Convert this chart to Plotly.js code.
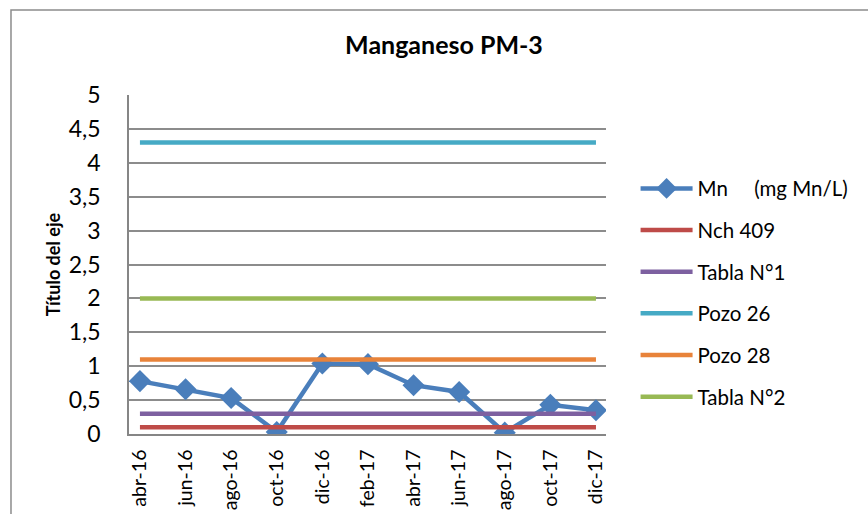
<!DOCTYPE html>
<html>
<head>
<meta charset="utf-8">
<script src="https://cdn.plot.ly/plotly-3.0.1.min.js"></script>
<style>
  html, body { margin: 0; padding: 0; background: #fff; }
  #chart { width: 868px; height: 514px; }
</style>
</head>
<body>
<div id="chart"></div>
<script>
const months = ['abr-16', 'jun-16', 'ago-16', 'oct-16', 'dic-16', 'feb-17',
  'abr-17', 'jun-17', 'ago-17', 'oct-17', 'dic-17'];
const mnValues = [0.78, 0.66, 0.53, 0.03, 1.04, 1.03, 0.72, 0.62, 0.02, 0.43, 0.35];
const nch409 = 0.1;
const tabla1 = 0.3;
const pozo26 = 4.3;
const pozo28 = 1.1;
const tabla2 = 2;

const FONT = 'Lato, Carlito, Calibri, "Open Sans", sans-serif';

function flat(name, value, color) {
  return {
    name,
    x: months,
    y: months.map(() => value),
    type: 'scatter',
    mode: 'lines',
    line: { color, width: 4.5 },
    legendgroup: name,
  };
}

const traces = [
  {
    name: 'Mn&nbsp;&nbsp;&nbsp;&nbsp;&nbsp;(mg Mn/L)',
    x: months,
    y: mnValues,
    type: 'scatter',
    mode: 'lines+markers',
    line: { color: '#4A7EBB', width: 4.5 },
    marker: { symbol: 'diamond', size: 17, color: '#4A7EBB' },
    legendgroup: 'mn',
  },
  flat('Nch 409', nch409, '#BE4B48'),
  flat('Tabla N°1', tabla1, '#7D60A0'),
  flat('Pozo 26', pozo26, '#46AAC5'),
  flat('Pozo 28', pozo28, '#E8833A'),
  flat('Tabla N°2', tabla2, '#98B954'),
];

const layout = {
  width: 868,
  height: 514,
  font: { family: FONT, size: 20, color: '#000' },
  paper_bgcolor: '#fff',
  plot_bgcolor: '#fff',
  separators: ',.',
  margin: { t: 95, r: 262, b: 80, l: 129 },
  title: {
    text: '<b>Manganeso PM-3</b>',
    font: { family: FONT, size: 25, color: '#000' },
    x: 0.5115, xanchor: 'center',
    y: 0.912, yanchor: 'middle',
  },
  xaxis: {
    type: 'category',
    range: [-0.24, 10.22],
    showgrid: false,
    zeroline: false,
    showline: true,
    linecolor: '#868686',
    linewidth: 1.5,
    tickangle: -90,
    tickfont: { family: FONT, size: 19.5 },
    ticklabelstandoff: 6,
  },
  yaxis: {
    range: [0, 5],
    dtick: 0.5,
    tickformat: ',.1~f',
    showgrid: true,
    gridcolor: '#8c8c8c',
    gridwidth: 1.5,
    zeroline: false,
    showline: true,
    linecolor: '#868686',
    linewidth: 1.5,
    tickfont: { family: FONT, size: 23 },
    ticklabelstandoff: 22,
    title: {
      text: '<b>Título del eje</b>',
      font: { family: FONT, size: 18 },
      standoff: 3,
    },
  },
  showlegend: true,
  legend: {
    x: 1.062, xanchor: 'left',
    y: 0.783, yanchor: 'top',
    font: { family: FONT, size: 20.5 },
    traceorder: 'grouped',
    tracegroupgap: 12,
    itemwidth: 52,
    bgcolor: 'rgba(0,0,0,0)',
  },
  shapes: [
    {
      type: 'rect', xref: 'paper', yref: 'paper',
      x0: -0.2474, x1: 1.6, y0: -0.4, y1: 1.2507,
      line: { color: '#8c8c8c', width: 1.5 },
    },
  ],
};

Plotly.newPlot('chart', traces, layout, { displayModeBar: false, responsive: false });
</script>
</body>
</html>
